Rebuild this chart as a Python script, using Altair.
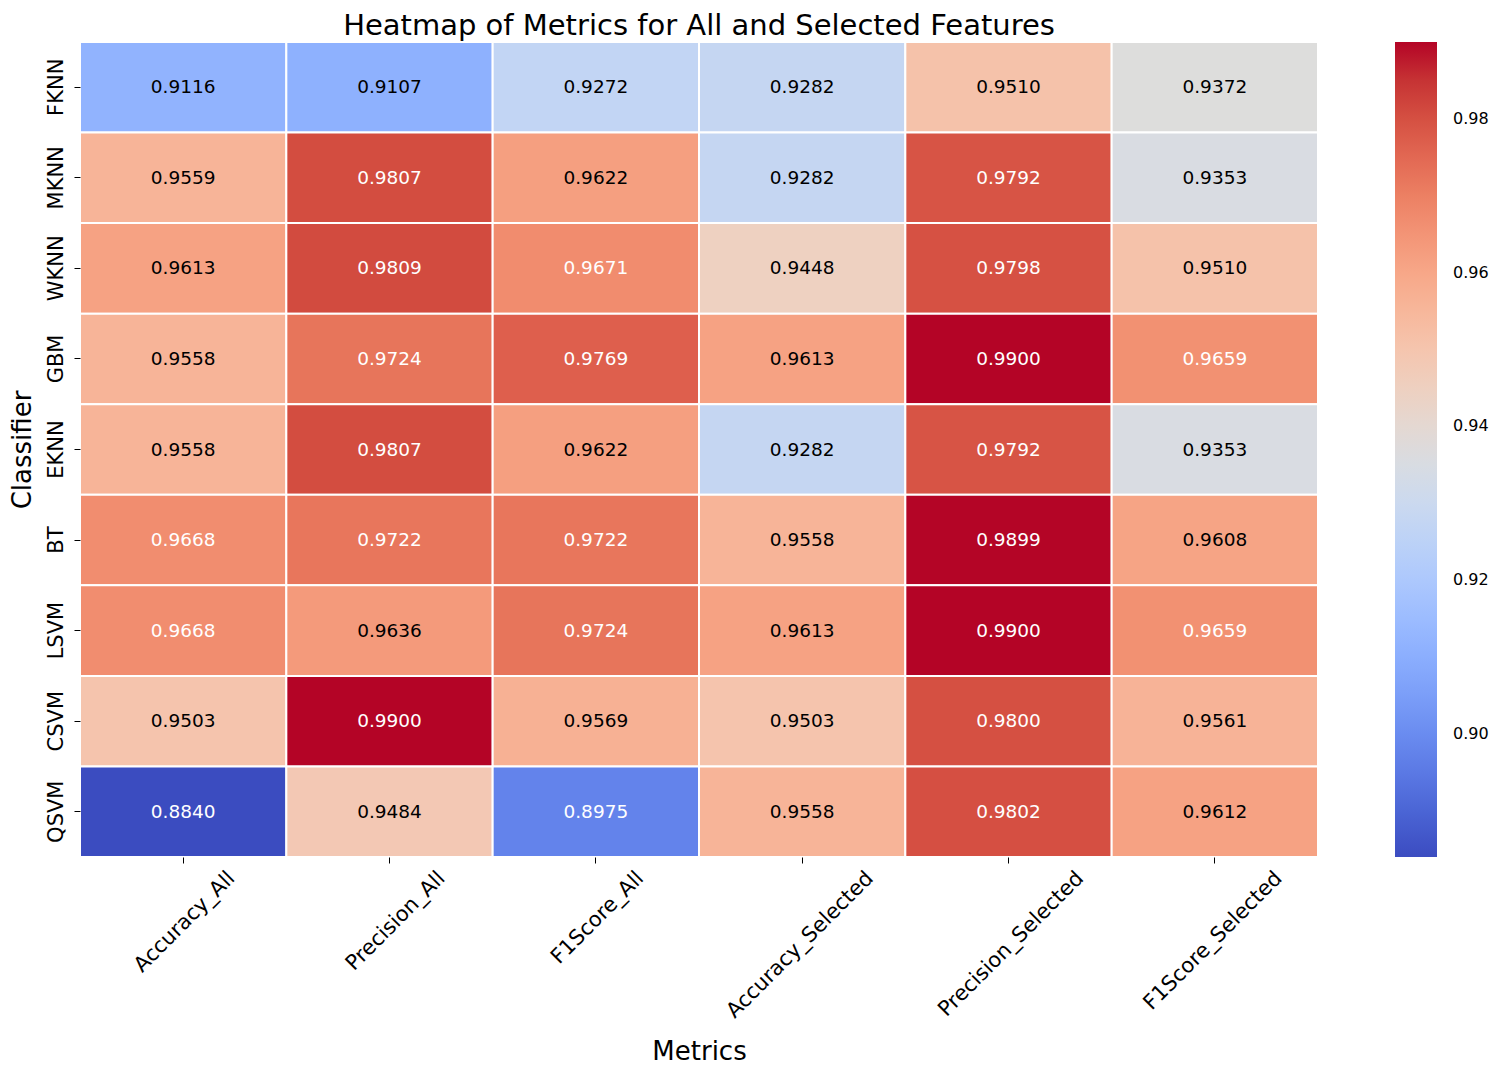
import altair as alt
import pandas as pd
import numpy as np

classifiers = ["FKNN", "MKNN", "WKNN", "GBM", "EKNN", "BT", "LSVM", "CSVM", "QSVM"]
metrics = ["Accuracy_All", "Precision_All", "F1Score_All",
           "Accuracy_Selected", "Precision_Selected", "F1Score_Selected"]

accuracy_all = [0.9116, 0.9559, 0.9613, 0.9558, 0.9558, 0.9668, 0.9668, 0.9503, 0.8840]
precision_all = [0.9107, 0.9807, 0.9809, 0.9724, 0.9807, 0.9722, 0.9636, 0.9900, 0.9484]
f1score_all = [0.9272, 0.9622, 0.9671, 0.9769, 0.9622, 0.9722, 0.9724, 0.9569, 0.8975]
accuracy_selected = [0.9282, 0.9282, 0.9448, 0.9613, 0.9282, 0.9558, 0.9613, 0.9503, 0.9558]
precision_selected = [0.9510, 0.9792, 0.9798, 0.9900, 0.9792, 0.9899, 0.9900, 0.9800, 0.9802]
f1score_selected = [0.9372, 0.9353, 0.9510, 0.9659, 0.9353, 0.9608, 0.9659, 0.9561, 0.9612]

series = [accuracy_all, precision_all, f1score_all,
          accuracy_selected, precision_selected, f1score_selected]

colorbar_ticks = [0.90, 0.92, 0.94, 0.96, 0.98]
color_min, color_max = 0.8840, 0.9900

# coolwarm colormap stops
coolwarm = [
    "#3b4cc0", "#445acc", "#4d68d7", "#5775e1", "#6282ea", "#6c8ef1", "#779af7",
    "#82a5fb", "#8db0fe", "#98b9ff", "#a3c2ff", "#aec9fd", "#b8d0f9", "#c2d5f4",
    "#ccd9ee", "#d5dbe6", "#dddddd", "#e5d8d1", "#ecd3c5", "#f1ccb9", "#f5c4ad",
    "#f7bba0", "#f7b194", "#f7a687", "#f49a7b", "#f18d6f", "#ec7f63", "#e57058",
    "#de604d", "#d55042", "#cb3e38", "#c0282f", "#b40426",
]

rows = []
for m, vals in zip(metrics, series):
    for c, v in zip(classifiers, vals):
        rows.append({"Classifier": c, "Metric": m, "Value": v})
df = pd.DataFrame(rows)

stops = [float(s) for s in np.linspace(color_min, color_max, len(coolwarm))]

x_enc = alt.X(
    "Metric:N", sort=metrics,
    scale=alt.Scale(paddingInner=0, paddingOuter=0),
    axis=alt.Axis(
        title="Metrics", titleFontSize=26, titleFontWeight="normal",
        titleColor="black", titleBaseline="alphabetic", titleY=202,
        labelFontSize=21, labelColor="black", labelAngle=315,
        labelAlign="right", labelBaseline="top", labelPadding=4,
        labelLimit=400,
        labelOffset={"expr": "0.354*(length(datum.label)*11 - 17)"},
        tickSize=6, tickColor="black", tickWidth=1, domain=False,
    ),
)
y_enc = alt.Y(
    "Classifier:N", sort=classifiers,
    scale=alt.Scale(paddingInner=0, paddingOuter=0),
    axis=alt.Axis(
        title="Classifier", titleFontSize=26, titleFontWeight="normal",
        titleColor="black", titleAngle=270, titleBaseline="alphabetic",
        titleX=-50,
        labelFontSize=21, labelColor="black", labelAngle=270,
        labelAlign="center", labelBaseline="alphabetic", labelPadding=12,
        tickSize=6, tickColor="black", tickWidth=1, domain=False,
    ),
)

base = alt.Chart(df).encode(x=x_enc, y=y_enc)

rect = base.mark_rect(stroke="white", strokeWidth=2).encode(
    color=alt.Color(
        "Value:Q",
        title=None,
        scale=alt.Scale(domain=stops, range=coolwarm, interpolate="rgb", clamp=True),
        legend=alt.Legend(
            orient="right", direction="vertical", offset=77,
            gradientLength=815, gradientThickness=42, gradientStrokeWidth=0,
            values=colorbar_ticks, format=".2f",
            labelFontSize=16, labelColor="black", labelOffset=16,
        ),
    )
)

text = base.mark_text(fontSize=18.5, align="center", baseline="middle").encode(
    text=alt.Text("Value:Q", format=".4f"),
    color=alt.condition(
        "datum.Value >= 0.965 || datum.Value <= 0.9",
        alt.value("white"), alt.value("black"),
    ),
)

chart = alt.layer(rect, text).properties(
    width=1238,
    height=815,
    title=alt.TitleParams(
        "Heatmap of Metrics for All and Selected Features",
        fontSize=29, fontWeight="normal", color="black", offset=0, anchor="middle",
    ),
    padding={"left": 72, "top": 34, "right": 172, "bottom": 209},
    autosize=alt.AutoSizeParams(type="none"),
).configure(font="DejaVu Sans").configure_view(strokeWidth=0)

chart.save("out.html", embed_options={"renderer": "svg", "actions": False})
